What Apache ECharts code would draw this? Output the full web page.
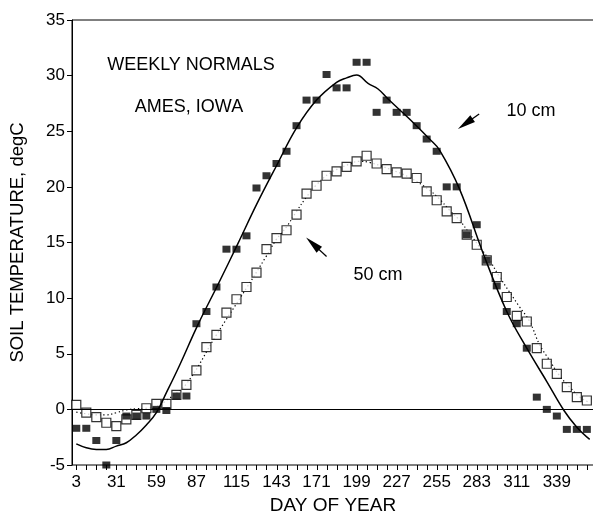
<!DOCTYPE html>
<html>
<head>
<meta charset="utf-8">
<script src="https://cdn.jsdelivr.net/npm/echarts@6/dist/echarts.min.js"></script>
<style>
html,body{margin:0;padding:0;background:#fff;}
#c{width:593px;height:514px;}
</style>
</head>
<body>
<div id="c"></div>
<script>
// Day of year of each weekly normal
const days = [3,10,17,24,31,38,45,52,59,66,73,80,87,94,101,108,115,122,129,136,143,150,157,164,171,178,185,192,199,206,213,220,227,234,241,248,255,262,269,276,283,290,297,304,311,318,325,332,339,346,353,360];
// 10 cm weekly normals (filled squares), degC
const soil10 = [-1.7,-1.7,-2.8,-5.0,-2.8,-0.6,-0.6,-0.6,0.0,-0.1,1.2,1.2,7.7,8.8,11.0,14.4,14.4,15.6,19.9,21.0,22.1,23.2,25.5,27.8,27.8,30.1,28.9,28.9,31.2,31.2,26.7,27.8,26.7,26.7,25.5,24.3,23.2,20.0,20.0,15.7,16.6,13.4,11.1,8.8,7.7,5.5,1.1,0.0,-0.6,-1.8,-1.8,-1.8];
// 50 cm weekly normals (open squares), degC
const soil50 = [0.4,-0.3,-0.7,-1.2,-1.5,-0.9,-0.5,0.1,0.5,0.5,1.3,2.2,3.5,5.6,6.7,8.7,9.9,11.0,12.3,14.4,15.4,16.1,17.5,19.4,20.1,21.0,21.4,21.8,22.3,22.8,22.1,21.6,21.3,21.2,20.8,19.6,18.8,17.8,17.2,15.7,14.8,13.4,11.9,10.1,8.4,7.9,5.5,4.1,3.2,2.0,1.1,0.8];
// Fitted curve for 10 cm (solid line), [day, degC]
const fit10 = [[3,-3.1],[10,-3.45],[17,-3.6],[24,-3.6],[31,-3.3],[38,-3.0],[45,-2.3],[52,-1.4],[59,-0.3],[66,1.5],[75,3.9],[88,7.6],[102,11.2],[116,14.9],[129,18.4],[143,21.9],[157,25.3],[171,27.8],[185,29.4],[192,29.8],[199,30.05],[207,29.3],[214,28.8],[221,27.9],[236,26.1],[250,24.3],[257,23.3],[271,19.8],[287,14.2],[304,8.8],[318,5.5],[332,2.5],[344,-0.1],[353,-1.6],[362,-2.7]];
// Fitted curve for 50 cm (dotted line), [day, degC]
const fit50 = [[3,-0.25],[10,-0.4],[17,-0.5],[24,-0.5],[31,-0.3],[38,-0.05],[45,0.05],[52,0.1],[59,0.25],[66,0.8],[80,2.3],[101,6.7],[122,10.9],[136,13.8],[143,15.3],[150,16.4],[157,17.8],[164,19.1],[171,20.2],[180,21.2],[193,22.0],[201,22.3],[208,22.2],[222,21.6],[236,20.85],[250,19.7],[257,18.9],[264,17.9],[271,17.0],[278,15.8],[285,14.6],[292,13.4],[299,11.9],[313,9.2],[320,7.9],[327,5.8],[334,4.4],[341,3.0],[348,2.0],[355,1.1],[362,0.6]];
// Axis tick values
const xLabelDays = [3,31,59,87,115,143,171,199,227,255,283,311,339];
const xTickDays = days;
// Annotation arrows [tail, arrowhead centre] in data coordinates
const arrow10 = [[284.7,26.55],[275.0,25.67]];
const arrow50 = [[178.0,13.75],[168.3,14.9]];

const FONT = '"Liberation Sans", Arial, Helvetica, sans-serif';
const chart = echarts.init(document.getElementById('c'), null, {renderer:'canvas'});

const pts10 = days.map((d,i)=>[d, soil10[i]]);
const pts50 = days.map((d,i)=>[d, soil50[i]]);

chart.setOption({
  animation:false,
  backgroundColor:'#fff',
  grid:{left:72, top:20, width:522, height:445, show:true, borderColor:'#000', borderWidth:1, containLabel:false, outerBoundsMode:'none'},
  xAxis:{
    type:'value', min:0, max:365,
    name:'DAY OF YEAR', nameLocation:'middle', nameGap:30,
    nameTextStyle:{fontFamily:FONT, fontSize:19, color:'#000'},
    axisLine:{show:true, lineStyle:{color:'#000', width:1}},
    axisTick:{show:false},
    axisLabel:{customValues:xLabelDays, fontFamily:FONT, fontSize:17, color:'#000', margin:9},
    splitLine:{show:false}
  },
  yAxis:{
    type:'value', min:-5, max:35, interval:5,
    name:'SOIL TEMPERATURE, degC', nameLocation:'middle', nameGap:45, nameRotate:90,
    nameTextStyle:{fontFamily:FONT, fontSize:18.5, color:'#000'},
    axisLine:{show:true, lineStyle:{color:'#000', width:1}},
    axisTick:{show:true, inside:false, length:5, lineStyle:{color:'#000'}},
    axisLabel:{fontFamily:FONT, fontSize:17, color:'#000', margin:7},
    splitLine:{show:false}
  },
  series:[
    {
      type:'custom', silent:true, clip:false, z:1,
      data:xTickDays.map(d=>[d]),
      renderItem:function(params, api){
        const p = api.coord([api.value(0), -5]);
        const x = Math.round(p[0]) + 0.5;
        return {type:'line', shape:{x1:x, y1:p[1], x2:x, y2:p[1]+5}, style:{stroke:'#000', lineWidth:1}};
      }
    },
    {
      type:'line', data:fit50, showSymbol:false, smooth:0.4, silent:true,
      lineStyle:{color:'#000', width:1.2, type:[1.3,2.6]},
      markLine:{
        silent:true, symbol:['none','none'], label:{show:false},
        lineStyle:{color:'#000', width:1, type:'solid'},
        data:[{yAxis:0}]
      },
      z:2
    },
    {
      type:'scatter', data:pts50, symbol:'rect', symbolSize:9,
      itemStyle:{color:'#fff', borderColor:'#000', borderWidth:1.2}, z:3
    },
    {
      type:'line', data:fit10, showSymbol:false, smooth:0.4, silent:true,
      lineStyle:{color:'#000', width:1.5},
      markLine:{
        silent:true, symbol:['none','triangle'], symbolSize:[8,18], label:{show:false},
        lineStyle:{color:'#000', width:1.3, type:'solid'},
        itemStyle:{color:'#000'},
        data:[
          [{coord:arrow10[0]},{coord:arrow10[1]}],
          [{coord:arrow50[0]},{coord:arrow50[1]}]
        ]
      },
      z:4
    },
    {
      type:'scatter', data:pts10, symbol:'rect', symbolSize:[8,7],
      itemStyle:{color:'#000'}, z:5
    }
  ],
  graphic:[
    {type:'text', x:191, y:65, style:{text:'WEEKLY NORMALS', font:'18px '+FONT, fill:'#000', align:'center', verticalAlign:'middle'}},
    {type:'text', x:189, y:107, style:{text:'AMES, IOWA', font:'18px '+FONT, fill:'#000', align:'center', verticalAlign:'middle'}},
    {type:'text', x:531, y:111, style:{text:'10 cm', font:'18px '+FONT, fill:'#000', align:'center', verticalAlign:'middle'}},
    {type:'text', x:378, y:275, style:{text:'50 cm', font:'18px '+FONT, fill:'#000', align:'center', verticalAlign:'middle'}}
  ]
});
</script>
</body>
</html>
